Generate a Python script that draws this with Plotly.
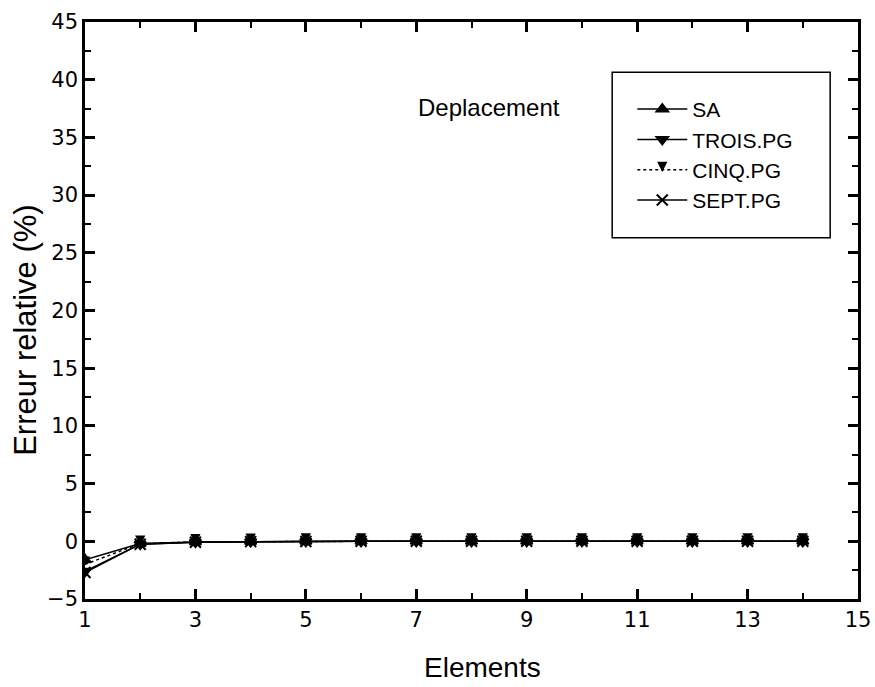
import plotly.graph_objects as go

# Number of elements and relative displacement error (%) per integration scheme
elements = list(range(1, 15))
sa = [-1.6, -0.2, -0.05, -0.02, 0, 0, 0, 0, 0, 0, 0, 0, 0, 0]
trois_pg = [-2.6, -0.25, -0.08, -0.03, -0.01, 0, 0, 0, 0, 0, 0, 0, 0, 0]
cinq_pg = [-2.0, -0.2, -0.06, -0.02, 0, 0, 0, 0, 0, 0, 0, 0, 0, 0]
sept_pg = [-2.7, -0.25, -0.08, -0.03, -0.01, 0, 0, 0, 0, 0, 0, 0, 0, 0]

x_ticks = [1, 3, 5, 7, 9, 11, 13, 15]

series = [
    ("SA", sa, "triangle-up", "solid", 10),
    ("TROIS.PG", trois_pg, "triangle-down", "solid", 10),
    ("CINQ.PG", cinq_pg, "arrow-down", "dot", 7),
    ("SEPT.PG", sept_pg, "x-thin", "solid", 11),
]

FONT = "Arial, Liberation Sans, Helvetica"
TICK_FONT = dict(family="DejaVu Sans", size=21, color="black")

fig = go.Figure()
for name, vals, sym, dash, size in series:
    fig.add_trace(go.Scatter(
        x=elements, y=vals, name=name, mode="lines+markers",
        line=dict(color="black", width=1.5, dash=dash),
        marker=dict(symbol=sym, size=size, color="black",
                    line=dict(color="black", width=2)),
    ))

axis_common = dict(
    showline=True, linecolor="black", linewidth=2.5, mirror="ticks",
    ticks="inside", tickcolor="black", tickwidth=2.5, ticklen=10,
    showgrid=False, zeroline=False, automargin=False,
)

fig.update_xaxes(
    range=[1, 15], tickmode="array", tickvals=x_ticks,
    minor=dict(ticks="inside", ticklen=6, tickwidth=2, tickcolor="black",
               dtick=1, tick0=1, showgrid=False),
    **axis_common,
)
fig.update_yaxes(
    range=[-5, 45], dtick=5, tick0=-5,
    minor=dict(ticks="inside", ticklen=6, tickwidth=2, tickcolor="black",
               dtick=2.5, tick0=-5, showgrid=False),
    **axis_common,
)
fig.update_xaxes(tickfont=TICK_FONT)
fig.update_yaxes(tickfont=TICK_FONT)

# Axis titles
fig.add_annotation(
    x=0.514, y=-0.118, xref="paper", yref="paper", text="Elements",
    showarrow=False, xanchor="center", yanchor="middle",
    font=dict(family=FONT, size=28, color="black"),
)
fig.add_annotation(
    x=-0.078, y=0.466, xref="paper", yref="paper", text="Erreur relative (%)",
    showarrow=False, xanchor="center", yanchor="middle", textangle=-90,
    font=dict(family=FONT, size=31, color="black"),
)

fig.add_annotation(
    x=7.0, y=37.6, xref="x", yref="y", text="Deplacement", showarrow=False,
    xanchor="left", font=dict(family=FONT, size=24, color="black"),
)

# Frame around the legend entries
fig.add_shape(
    type="rect", xref="paper", yref="paper",
    x0=0.682, x1=0.964, y0=0.626, y1=0.913,
    line=dict(color="black", width=1.5), fillcolor="rgba(0,0,0,0)",
    layer="above",
)

fig.update_layout(
    width=875, height=687,
    margin=dict(l=85, r=17, t=22, b=88, autoexpand=False),
    paper_bgcolor="white", plot_bgcolor="white",
    showlegend=True,
    legend=dict(
        x=0.708, y=0.884, xanchor="left", yanchor="top",
        borderwidth=0, bgcolor="rgba(255,255,255,0)",
        font=dict(family=FONT, size=21, color="black"),
        itemwidth=50, tracegroupgap=0,
    ),
)

fig.write_html("out.html")
